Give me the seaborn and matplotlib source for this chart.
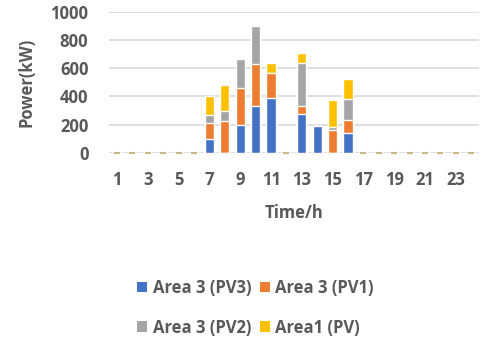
import numpy as np
import pandas as pd
import matplotlib
matplotlib.use("Agg")
import matplotlib.pyplot as plt
import seaborn as sns
from matplotlib.patches import Patch

hours = list(range(1, 25))
pv3 = [0, 0, 0, 0, 0, 0, 100, 0, 200, 330, 390, 0, 275, 190, 0, 140, 0, 0, 0, 0, 0, 0, 0, 0]
pv1 = [0, 0, 0, 0, 0, 0, 110, 228, 260, 300, 175, 0, 60, 0, 160, 95, 0, 0, 0, 0, 0, 0, 0, 0]
pv2 = [0, 0, 0, 0, 0, 0, 60, 70, 205, 270, 0, 0, 300, 0, 20, 148, 0, 0, 0, 0, 0, 0, 0, 0]
pv = [0, 0, 0, 0, 0, 0, 135, 180, 0, 0, 70, 0, 72, 0, 197, 143, 0, 0, 0, 0, 0, 0, 0, 0]
series_names = ["Area 3 (PV3)", "Area 3 (PV1)", "Area 3 (PV2)", "Area1 (PV)"]
colors = ["#4472C4", "#ED7D31", "#A5A5A5", "#FFC000"]
xtick_labels = [str(h) for h in range(1, 24, 2)]
yticks = [0, 200, 400, 600, 800, 1000]

sns.set_style("white")
plt.rcParams["font.family"] = ["Open Sans", "DejaVu Sans"]
gray = "#595959"
fs = 12

df = pd.DataFrame({"hour": hours, "PV3": pv3, "PV1": pv1, "PV2": pv2, "PV": pv})
cum = df[["PV3", "PV1", "PV2", "PV"]].cumsum(axis=1)

fig = plt.figure(figsize=(4.82, 3.43), dpi=100)
ax = fig.add_axes([109.3 / 482, 1 - 152.7 / 343, (479 - 109.3) / 482, (152.7 - 12) / 343])

cols = ["PV3", "PV1", "PV2", "PV"]
for i in range(3, -1, -1):
    sns.barplot(x=df["hour"], y=cum[cols[i]], color=colors[i], width=0.6,
                saturation=1, ax=ax, zorder=3, order=hours)

# small base markers for zero-valued hours
zero_idx = [i for i, t in enumerate(cum["PV"]) if t == 0]
ax.plot(zero_idx, [0] * len(zero_idx), ls="none", marker="_", ms=5, mew=1.5,
        color="#C9B98A", zorder=4, clip_on=False)

ax.set_xlim(-0.5, 23.5)
ax.set_ylim(0, 1000)
ax.set_yticks(yticks)
ax.set_yticklabels([str(v) for v in yticks], fontsize=fs, fontweight="bold", color=gray)
ax.set_xticks([h - 1 for h in range(1, 24, 2)])
ax.set_xticklabels(xtick_labels, fontsize=fs, fontweight="bold", color=gray)
ax.tick_params(axis="both", length=0)
ax.tick_params(axis="x", pad=13)
ax.tick_params(axis="y", pad=15)
ax.grid(axis="y", color="#D9D9D9", lw=1.2, zorder=0)
ax.set_axisbelow(True)
for s in ax.spines.values():
    s.set_visible(False)
ax.set_xlabel("Time/h", fontsize=fs, fontweight="bold", color=gray, labelpad=11)
ax.set_ylabel("Power(kW)", fontsize=fs, fontweight="bold", color=gray, labelpad=11)

handles = [Patch(facecolor=c, edgecolor="none") for c in colors]
order = [0, 2, 1, 3]
leg = fig.legend([handles[i] for i in order], [series_names[i] for i in order],
                 loc="center", bbox_to_anchor=(0.53, 0.103),
                 ncol=2, frameon=False, prop={"size": fs, "weight": "bold"},
                 handlelength=0.6, handleheight=0.6, handletextpad=0.35,
                 columnspacing=0.5, labelspacing=1.3)
for t in leg.get_texts():
    t.set_color(gray)

fig.savefig("out.png", dpi=100)
